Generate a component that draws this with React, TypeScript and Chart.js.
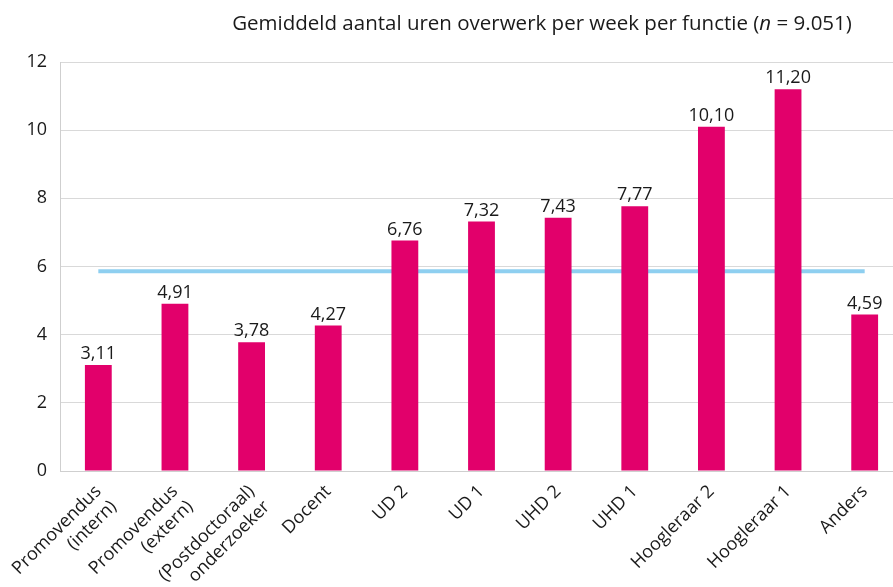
import React, { useEffect, useRef } from "react";
import { Chart, registerables } from "chart.js";

Chart.register(...registerables);

const categories: (string | string[])[] = [
  ["Promovendus", "(intern)"],
  ["Promovendus", "(extern)"],
  ["(Postdoctoraal)", "onderzoeker"],
  "Docent",
  "UD 2",
  "UD 1",
  "UHD 2",
  "UHD 1",
  "Hoogleraar 2",
  "Hoogleraar 1",
  "Anders",
];
const overtimeHours = [3.11, 4.91, 3.78, 4.27, 6.76, 7.32, 7.43, 7.77, 10.1, 11.2, 4.59];
const averageHours = 5.86;
const yTicks = [0, 2, 4, 6, 8, 10, 12];
const titleBefore = "Gemiddeld aantal uren overwerk per week per functie (";
const titleItalic = "n";
const titleAfter = " = 9.051)";

const FONT = "Open Sans";

const valueLabels = {
  id: "valueLabels",
  afterDatasetsDraw(chart: any) {
    const ctx = chart.ctx;
    const meta = chart.getDatasetMeta(0);
    ctx.save();
    ctx.font = `18px "${FONT}"`;
    ctx.fillStyle = "#1a1a1a";
    ctx.textAlign = "center";
    ctx.textBaseline = "bottom";
    meta.data.forEach((el: any, i: number) => {
      const v = overtimeHours[i];
      ctx.fillText(v.toFixed(2).replace(".", ","), el.x, el.y - 2);
    });
    ctx.restore();
  },
};

const titlePlugin = {
  id: "mixedTitle",
  afterDraw(chart: any) {
    const ctx = chart.ctx;
    ctx.save();
    ctx.fillStyle = "#1a1a1a";
    ctx.textBaseline = "alphabetic";
    ctx.textAlign = "left";
    const normal = `20.5px "${FONT}"`;
    const italic = `italic 20.5px "${FONT}"`;
    ctx.font = normal;
    const w1 = ctx.measureText(titleBefore).width;
    const w3 = ctx.measureText(titleAfter).width;
    ctx.font = italic;
    const w2 = ctx.measureText(titleItalic).width;
    const total = w1 + w2 + w3;
    let x = 542 - total / 2;
    const y = 30;
    ctx.font = normal;
    ctx.fillText(titleBefore, x, y);
    x += w1;
    ctx.font = italic;
    ctx.fillText(titleItalic, x, y);
    x += w2;
    ctx.font = normal;
    ctx.fillText(titleAfter, x, y);
    ctx.restore();
  },
};

export default function App() {
  const ref = useRef<HTMLCanvasElement>(null);
  useEffect(() => {
    if (!ref.current) return;
    const chart = new Chart(ref.current, {
      type: "bar",
      data: {
        labels: categories,
        datasets: [
          {
            type: "bar",
            data: overtimeHours,
            backgroundColor: "#e2006b",
            barPercentage: 0.35,
            categoryPercentage: 1,
            order: 1,
          },
          {
            type: "line",
            data: overtimeHours.map(() => averageHours),
            borderColor: "#8ecff0",
            borderWidth: 4,
            pointRadius: 0,
            fill: false,
            order: 2,
          } as any,
        ],
      },
      options: {
        animation: false,
        responsive: false,
        maintainAspectRatio: false,
        layout: { padding: { top: 62, right: 2, left: 0, bottom: 0 } },
        plugins: {
          legend: { display: false },
          tooltip: { enabled: false },
          title: { display: false },
        },
        scales: {
          x: {
            grid: { display: false },
            border: { color: "#cfcfcf" },
            ticks: {
              font: { family: FONT, size: 18 },
              color: "#1a1a1a",
              maxRotation: 45,
              minRotation: 45,
              autoSkip: false,
              padding: 2,
            },
            afterFit(scale: any) {
              scale.height = 116;
            },
          },
          y: {
            min: 0,
            max: 12,
            afterBuildTicks(scale: any) {
              scale.ticks = yTicks.map((v) => ({ value: v }));
            },
            grid: { color: "#d9d9d9", drawTicks: false },
            border: { color: "#cfcfcf" },
            ticks: {
              font: { family: FONT, size: 18 },
              color: "#1a1a1a",
              padding: 13,
            },
            afterFit(scale: any) {
              scale.width = 60;
            },
          },
        },
      },
      plugins: [valueLabels, titlePlugin],
    });
    return () => chart.destroy();
  }, []);
  return (
    <div
      style={{
        position: "fixed",
        left: 0,
        top: 0,
        width: 893,
        height: 587,
        overflow: "hidden",
        background: "#fff",
      }}
    >
      <canvas ref={ref} width={905} height={587} style={{ width: 905, height: 587 }} />
    </div>
  );
}
